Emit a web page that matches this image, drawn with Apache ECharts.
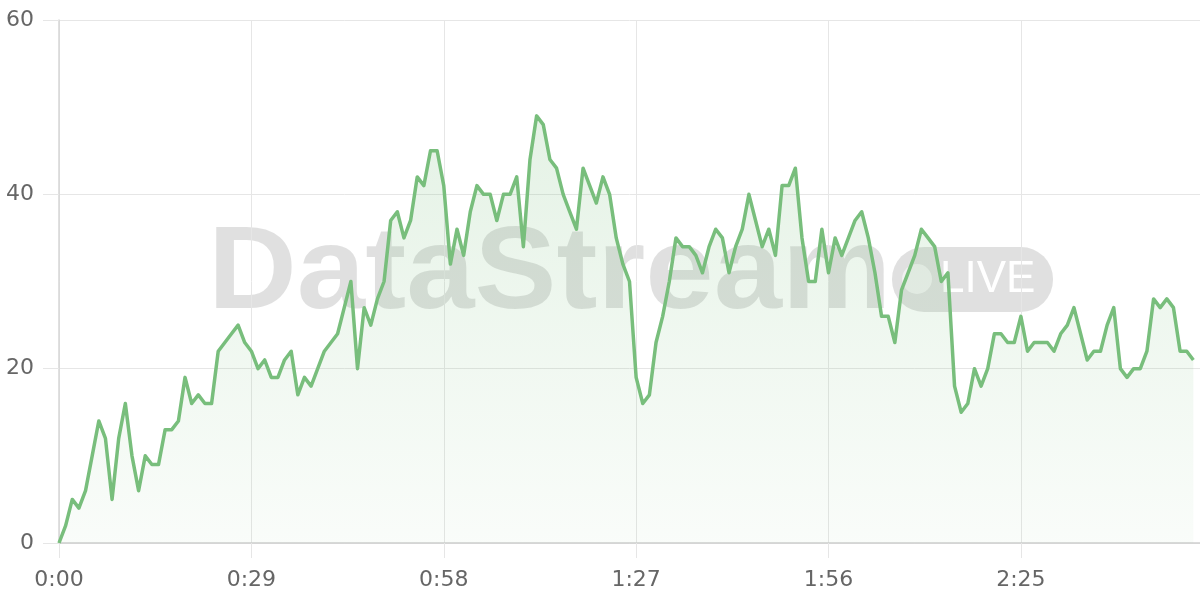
<!DOCTYPE html>
<html>
<head>
<meta charset="utf-8">
<script src="https://cdn.jsdelivr.net/npm/echarts@6/dist/echarts.min.js"></script>
<style>
html,body{margin:0;padding:0;background:#fff;}
#chart{width:1200px;height:600px;}
</style>
</head>
<body>
<div id="chart"></div>
<script>
// Elapsed seconds per sample (0:00 .. 2:52), one category per second
const totalSeconds = 173;
const categories = [];
for (let s = 0; s < totalSeconds; s++) {
  categories.push(Math.floor(s / 60) + ':' + String(s % 60).padStart(2, '0'));
}

// Series values (one per second, 0:00 .. 2:51)
const values = [
  0, 2, 5, 4, 6, 10, 14, 12, 5, 12,
  16, 10, 6, 10, 9, 9, 13, 13, 14, 19,
  16, 17, 16, 16, 22, 23, 24, 25, 23, 22,
  20, 21, 19, 19, 21, 22, 17, 19, 18, 20,
  22, 23, 24, 27, 30, 20, 27, 25, 28, 30,
  37, 38, 35, 37, 42, 41, 45, 45, 41, 32,
  36, 33, 38, 41, 40, 40, 37, 40, 40, 42,
  34, 44, 49, 48, 44, 43, 40, 38, 36, 43,
  41, 39, 42, 40, 35, 32, 30, 19, 16, 17,
  23, 26, 30, 35, 34, 34, 33, 31, 34, 36,
  35, 31, 34, 36, 40, 37, 34, 36, 33, 41,
  41, 43, 35, 30, 30, 36, 31, 35, 33, 35,
  37, 38, 35, 31, 26, 26, 23, 29, 31, 33,
  36, 35, 34, 30, 31, 18, 15, 16, 20, 18,
  20, 24, 24, 23, 23, 26, 22, 23, 23, 23,
  22, 24, 25, 27, 24, 21, 22, 22, 25, 27,
  20, 19, 20, 20, 22, 28, 27, 28, 27, 22,
  22, 21
];

// Y-axis ticks
const yTicks = [0, 20, 40, 60];

const watermarkText = 'DataStream';
const badgeText = 'LIVE';

const chart = echarts.init(document.getElementById('chart'), null, {renderer: 'canvas'});

const labelFont = {color: '#666666', fontSize: 22, fontFamily: 'DejaVu Sans'};

chart.setOption({
  animation: false,
  backgroundColor: '#ffffff',
  grid: {left: 59, right: 0, top: 20, bottom: 57, containLabel: false},
  graphic: [
    {
      type: 'text', z: 0, x: 208, y: 218, scaleX: 1.06,
      style: {
        text: watermarkText,
        fill: 'rgba(0,0,0,0.12)',
        font: 'bold 116px "Liberation Sans", Arial, sans-serif'
      }
    },
    {
      type: 'rect', z: 0,
      shape: {x: 892, y: 247, width: 161, height: 65, r: 32},
      style: {fill: 'rgba(0,0,0,0.12)'}
    },
    {
      type: 'circle', z: 0,
      shape: {cx: 917, cy: 279, r: 15},
      style: {fill: 'rgba(255,255,255,0.55)'}
    },
    {
      type: 'text', z: 0, x: 940, y: 258,
      style: {
        text: badgeText,
        fill: '#ffffff',
        font: '44px "Liberation Sans", Arial, sans-serif'
      }
    }
  ],
  xAxis: {
    type: 'category',
    data: categories,
    boundaryGap: false,
    axisLine: {show: true, lineStyle: {color: '#d0d0d0', width: 1.5}},
    axisTick: {show: true, interval: 28, length: 15, lineStyle: {color: '#e6e6e6'}},
    axisLabel: Object.assign({interval: 28, margin: 26}, labelFont),
    splitLine: {show: true, interval: 28, lineStyle: {color: '#e6e6e6', width: 1}}
  },
  yAxis: {
    type: 'value',
    min: yTicks[0],
    max: yTicks[yTicks.length - 1],
    interval: yTicks[1] - yTicks[0],
    axisLine: {show: true, lineStyle: {color: '#d6d6d6', width: 1.5}},
    axisTick: {show: true, length: 16, lineStyle: {color: '#e6e6e6'}},
    axisLabel: Object.assign({margin: 25}, labelFont),
    splitLine: {show: true, lineStyle: {color: '#e6e6e6', width: 1}}
  },
  series: [{
    type: 'line',
    data: values,
    showSymbol: false,
    smooth: false,
    z: 3,
    lineStyle: {color: '#78be7c', width: 3.5, join: 'round'},
    itemStyle: {color: '#78be7c'},
    areaStyle: {
      color: new echarts.graphic.LinearGradient(0, 0, 0, 1, [
        {offset: 0, color: 'rgba(120,190,124,0.28)'},
        {offset: 1, color: 'rgba(120,190,124,0.06)'}
      ])
    }
  }]
});
</script>
</body>
</html>
